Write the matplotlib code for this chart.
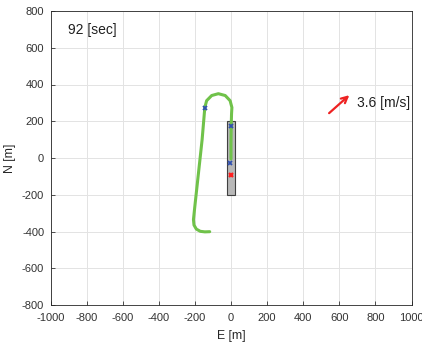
import matplotlib.pyplot as plt
import numpy as np
from matplotlib.patches import Rectangle

plt.rcParams['font.family'] = ['Liberation Sans', 'DejaVu Sans']
plt.rcParams['axes.unicode_minus'] = False

# track (E, N) in metres
track_e = [0, 0, 1, 3, 5, -5, -32, -70, -107, -135, -145, -160, -180, -200, -208, -205, -192, -170, -145, -118]
track_n = [-5, 80, 170, 240, 275, 312, 340, 350, 340, 312, 275, 100, -80, -260, -335, -365, -387, -399, -402, -401]

box_e = [-20, 20]
box_n = [-200, 200]

blue_e = [-145, 0, -8]
blue_n = [272, 175, -25]
red_e = [0]
red_n = [-95]

wind_from = (532, 234)
wind_to = (667, 352)
wind_label = '3.6 [m/s]'
time_label = '92 [sec]'

xticks = np.arange(-1000, 1001, 200)
yticks = np.arange(-800, 801, 200)

fig = plt.figure(figsize=(4.22, 3.47), dpi=100)
ax = fig.add_axes([50.5 / 422, (347 - 305) / 347, 361 / 422, 294 / 347])

ax.add_patch(Rectangle((box_e[0], box_n[0]), box_e[1] - box_e[0], box_n[1] - box_n[0],
                       facecolor='#b8b8b8', edgecolor='#404040', lw=0.8, zorder=2))
ax.plot(track_e, track_n, color='#70c24a', lw=2.2, zorder=3, solid_capstyle='round',
        solid_joinstyle='round')
ax.plot(blue_e, blue_n, 'x', color='#3050b0', ms=3.5, mew=1.3, zorder=4)
ax.plot(red_e, red_n, 'x', color='#ff2020', ms=3.5, mew=1.6, zorder=4)

ax.annotate('', xy=wind_to, xytext=wind_from,
            arrowprops=dict(arrowstyle='->', color='#ee2222', lw=1.6, mutation_scale=11))
ax.text(698, 300, wind_label, fontsize=10, color='#202020', va='center')
ax.text(-903, 697, time_label, fontsize=10, color='#202020', va='center')

ax.set_xlim(-1000, 1000)
ax.set_ylim(-800, 800)
ax.set_xticks(xticks)
ax.set_yticks(yticks)
ax.tick_params(direction='in', length=3, labelsize=8, colors='#333333', width=0.6)
ax.tick_params(axis='x', pad=6)
ax.tick_params(axis='y', pad=4.5)
ax.grid(True, color='#e3e3e3', lw=0.7)
ax.set_axisbelow(True)
for s in ax.spines.values():
    s.set_color('#262626')
    s.set_linewidth(0.6)
ax.set_xlabel('E [m]', fontsize=8.8, color='#262626', labelpad=5)
ax.set_ylabel('N [m]', fontsize=8.8, color='#262626', labelpad=4)

fig.savefig('out.png', dpi=100)
